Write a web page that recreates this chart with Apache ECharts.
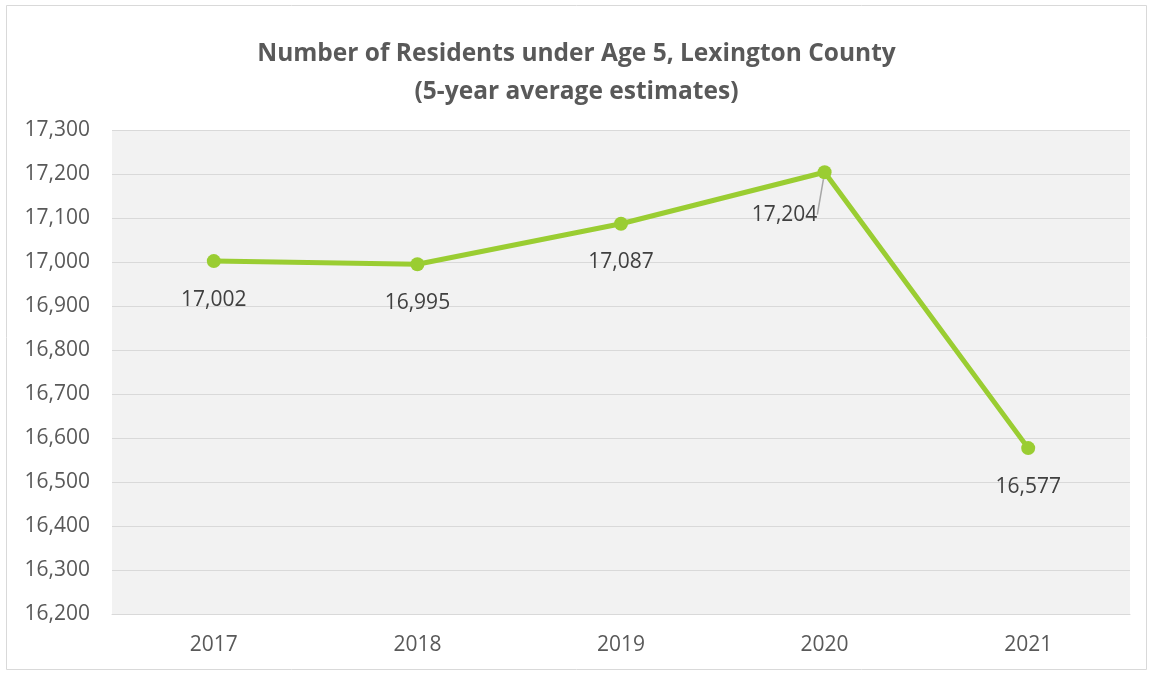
<!DOCTYPE html>
<html>
<head>
<meta charset="utf-8">
<script src="https://cdn.jsdelivr.net/npm/echarts@6/dist/echarts.min.js"></script>
<style>
html,body{margin:0;padding:0;background:#fff;}
#c{width:1153px;height:674px;}
</style>
</head>
<body>
<div id="c"></div>
<script>
const years = ['2017', '2018', '2019', '2020', '2021'];
const residents = [17002, 16995, 17087, 17204, 16577];
const titleLines = ['Number of Residents under Age 5, Lexington County', '(5-year average estimates)'];

const chart = echarts.init(document.getElementById('c'));
const FONT = '"Open Sans", sans-serif';
const fmt = v => v.toLocaleString('en-US');

chart.setOption({
  backgroundColor: '#fff',
  animation: false,
  textStyle: { fontFamily: FONT },
  graphic: [{
    type: 'rect',
    shape: { x: 6.5, y: 5.5, width: 1140, height: 664 },
    style: { fill: 'none', stroke: '#d9d9d9', lineWidth: 1 },
    silent: true, z: -1
  }],
  title: {
    text: titleLines.join('\n'),
    left: 'center',
    top: 30,
    textStyle: { fontFamily: FONT, fontSize: 24.5, fontWeight: 'bold', color: '#595959', lineHeight: 38 }
  },
  grid: { left: 112, right: 23, top: 130, bottom: 60, containLabel: false, show: true, backgroundColor: '#f2f2f2', borderWidth: 0 },
  xAxis: {
    type: 'category',
    data: years,
    boundaryGap: true,
    axisLine: { show: true, lineStyle: { color: '#d9d9d9', width: 1 } },
    axisTick: { show: false },
    axisLabel: { color: '#595959', fontSize: 21, margin: 21, fontFamily: FONT }
  },
  yAxis: {
    type: 'value',
    min: 16200, max: 17300, interval: 100,
    axisLine: { show: false },
    axisTick: { show: false },
    splitLine: { lineStyle: { color: '#d9d9d9', width: 1 } },
    axisLabel: { color: '#595959', fontSize: 21, margin: 22, formatter: v => fmt(v), fontFamily: FONT }
  },
  series: [{
    type: 'line',
    data: residents.map((v, i) => i === 3 ? { value: v, labelLine: { show: true } } : v),
    symbol: 'circle',
    symbolSize: 14,
    lineStyle: { color: '#9acd32', width: 5 },
    itemStyle: { color: '#9acd32' },
    label: {
      show: true, position: 'bottom', distance: 21,
      color: '#404040', fontSize: 21, fontFamily: FONT,
      formatter: p => fmt(p.value)
    },
    labelLine: { show: false, lineStyle: { color: '#a6a6a6', width: 1.5 } },
    labelLayout: p => p.dataIndex === 3 ? { dx: -40, dy: 4 } : {}
  }]
});
</script>
</body>
</html>
